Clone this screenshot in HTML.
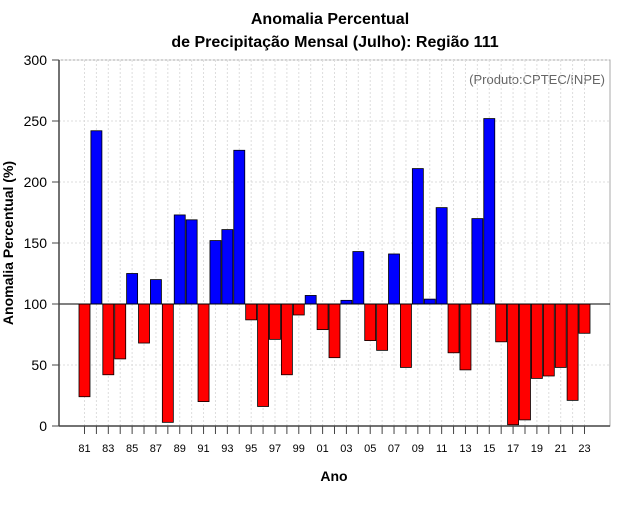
<!DOCTYPE html>
<html><head><meta charset="utf-8"><style>
body{margin:0;background:#fff;font-family:"Liberation Sans",sans-serif}
</style></head><body>
<svg id="chart" width="640" height="500" xmlns="http://www.w3.org/2000/svg" font-family="Liberation Sans, sans-serif">
<text x="330" y="24" text-anchor="middle" font-size="16" font-weight="bold">Anomalia Percentual</text>
<text x="335" y="47" text-anchor="middle" font-size="16" font-weight="bold">de Precipitação Mensal (Julho): Região 111</text>
<text x="605" y="84" text-anchor="end" font-size="13" fill="#666">(Produto:CPTEC/INPE)</text>
<text transform="translate(13,243) rotate(-90)" text-anchor="middle" font-size="14" font-weight="bold">Anomalia Percentual (%)</text>
<text x="334" y="481" text-anchor="middle" font-size="14" font-weight="bold">Ano</text>
<g id="grid"></g><g id="bars"></g><g id="axes"></g>
</svg>
<script>
const years=[81,82,83,84,85,86,87,88,89,90,91,92,93,94,95,96,97,98,99,0,1,2,3,4,5,6,7,8,9,10,11,12,13,14,15,16,17,18,19,20,21,22,23];
const values=[24,242,42,55,125,68,120,3,173,169,20,152,161,226,87,16,71,42,91,107,79,56,103,143,70,62,141,48,211,104,179,60,46,170,252,69,1,5,39,41,48,21,76];
const yTicks=[0,50,100,150,200,250,300];
const NS="http://www.w3.org/2000/svg";
const X0=59,X1=610,Y0=426,Y1=60;
const xs=i=>84.5+i*11.905;
const ys=v=>Y0-(v/300)*(Y0-Y1);
function mk(t,a,p){const e=document.createElementNS(NS,t);for(const k in a)e.setAttribute(k,a[k]);p.appendChild(e);return e;}
const g=document.getElementById('grid'),b=document.getElementById('bars'),ax=document.getElementById('axes');
mk('rect',{x:X0,y:Y1,width:X1-X0,height:Y0-Y1,fill:'none',stroke:'#aaa'},g);
yTicks.forEach(v=>{const l=mk('line',{x1:X0,x2:X1,y1:ys(v),y2:ys(v),stroke:'#ddd','stroke-dasharray':'2,2'},g);


const t=mk('line',{x1:X0-7,x2:X0,y1:ys(v),y2:ys(v),stroke:'#444'},ax);
const tx=mk('text',{x:X0-12,y:ys(v)+5,'text-anchor':'end','font-size':14},ax);tx.textContent=v;

});
years.forEach((y,i)=>{const x=xs(i);
const gl=mk('line',{x1:x,x2:x,y1:Y1,y2:Y0,stroke:'#ddd','stroke-dasharray':'2,2'},g);


mk('line',{x1:x,x2:x,y1:Y0,y2:Y0+8,stroke:'#444'},ax);
if(i%2==0){const t=mk('text',{x:x,y:452,'text-anchor':'middle','font-size':11},ax);t.textContent=String(y).padStart(2,'0');

}
const v=values[i];const top=Math.min(ys(v),ys(100)),h=Math.abs(ys(v)-ys(100));
const r=mk('rect',{x:x-5.5,y:top,width:11,height:h,fill:v>=100?'#0000ff':'#ff0000',stroke:'#000','stroke-width':0.8},b);

});
mk('line',{x1:X0,x2:X1,y1:ys(100),y2:ys(100),stroke:'#000'},ax);
mk('line',{x1:X0,x2:X0,y1:Y1,y2:Y0,stroke:'#444','stroke-width':1.5},ax);
mk('line',{x1:X0,x2:X1,y1:Y0,y2:Y0,stroke:'#444','stroke-width':1.5},ax);
</script>
</body></html>
